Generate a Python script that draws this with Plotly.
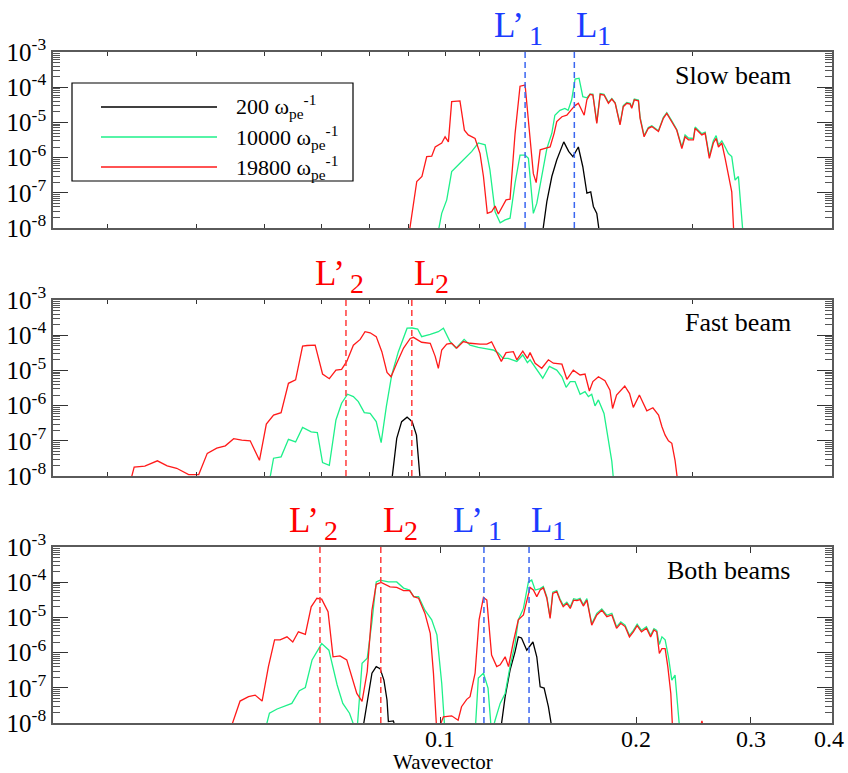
import math
import plotly.graph_objects as go

# ---------------- data (wavevector k, wave energy W) ----------------
# Panel 1: slow beam
slow_200_k = [0.1433, 0.1459, 0.1485, 0.1511, 0.1549, 0.1576, 0.1600, 0.1631, 0.1657, 0.1681, 0.1704, 0.1720, 0.1741, 0.1762]
slow_200_w = [5e-9, 5.6e-8, 2.9e-7, 8.5e-7, 2.8e-6, 1.5e-6, 1.07e-6, 2.0e-6, 5.5e-7, 9.8e-8, 1.07e-7, 4.1e-8, 2.6e-8, 5e-9]

slow_10000_k = [0.0989, 0.1006, 0.1024, 0.1042, 0.1073, 0.1099, 0.1119, 0.1145, 0.1173, 0.1193, 0.1215, 0.1237, 0.1259, 0.1281,
                0.1304, 0.1327, 0.1351, 0.1367, 0.1391, 0.1408, 0.1433, 0.1459, 0.1485, 0.1501, 0.1528, 0.1555, 0.1573, 0.1593,
                0.1612, 0.1635, 0.1657, 0.1681, 0.1700, 0.1717, 0.1741, 0.1762, 0.1786, 0.1814, 0.1836, 0.1858, 0.1890, 0.1912,
                0.1936, 0.1959, 0.1970, 0.1988, 0.2017, 0.2029, 0.2058, 0.2089, 0.2115, 0.2165, 0.2203, 0.2230, 0.2270, 0.2310,
                0.2352, 0.2379, 0.2407, 0.2450, 0.2465, 0.2494, 0.2524, 0.2554, 0.2592, 0.2629, 0.2655, 0.2677, 0.2709, 0.2741,
                0.2773, 0.2806, 0.2839, 0.2873, 0.2924]
slow_10000_w = [5e-9, 2.6e-8, 6.3e-8, 4.0e-7, 6.9e-7, 1.07e-6, 1.5e-6, 2.6e-6, 2.3e-6, 4.5e-7, 2.9e-8, 1.4e-8, 1.7e-8, 1.9e-8,
                1.9e-7, 1.17e-6, 1.17e-6, 9.5e-7, 2.6e-8, 5.0e-8, 2.9e-7, 1.8e-6, 4.9e-6, 1.6e-5, 2.2e-5, 2.5e-5, 2.2e-5, 4.4e-5,
                1.7e-4, 1.8e-4, 5.4e-5, 5.0e-5, 6.3e-5, 6.3e-5, 1.0e-5, 6.6e-5, 6.3e-5, 3.7e-5, 4.8e-5, 3.6e-5, 9.0e-6, 3.0e-5,
                3.7e-5, 3.5e-5, 2.7e-5, 4.6e-5, 4.3e-5, 1.4e-5, 4.2e-6, 7.2e-6, 8.0e-6, 5.8e-6, 1.4e-5, 1.9e-5, 1.1e-5, 6.3e-6,
                2.0e-6, 4.4e-6, 3.6e-6, 3.5e-6, 7.4e-6, 6.0e-6, 4.8e-6, 5.3e-6, 1.1e-6, 3.0e-6, 4.2e-6, 2.3e-6, 3.0e-6, 2.0e-6,
                1.3e-6, 1.07e-6, 2.3e-7, 2.9e-7, 5e-9]

slow_19800_k = [0.0894, 0.0921, 0.0938, 0.0954, 0.0971, 0.0983, 0.1006, 0.1018, 0.1030, 0.1042, 0.1073, 0.1090, 0.1105, 0.1132,
                0.1152, 0.1166, 0.1182, 0.1200, 0.1215, 0.1229, 0.1263, 0.1281, 0.1304, 0.1327, 0.1351, 0.1375, 0.1391, 0.1405,
                0.1425, 0.1445, 0.1476, 0.1497, 0.1511, 0.1539, 0.1566, 0.1588, 0.1612, 0.1631, 0.1665, 0.1681, 0.1700, 0.1717,
                0.1741, 0.1762, 0.1786, 0.1814, 0.1836, 0.1858, 0.1890, 0.1912, 0.1936, 0.1959, 0.1970, 0.1988, 0.2017, 0.2029,
                0.2058, 0.2089, 0.2115, 0.2165, 0.2203, 0.2230, 0.2270, 0.2310, 0.2352, 0.2379, 0.2407, 0.2450, 0.2465, 0.2494,
                0.2524, 0.2554, 0.2592, 0.2629, 0.2655, 0.2677, 0.2709, 0.2741, 0.2773, 0.2806, 0.2829]
slow_19800_w = [5e-9, 2.1e-7, 2.9e-7, 1.07e-6, 1.1e-6, 2.0e-6, 2.6e-6, 3.9e-6, 2.8e-6, 3.9e-5, 4.1e-5, 6.0e-6, 4.4e-6, 3.5e-6,
                1.3e-6, 2.9e-7, 2.6e-8, 2.9e-8, 4.2e-8, 2.5e-8, 6.3e-8, 6.6e-8, 4.9e-6, 1.07e-4, 1.15e-4, 3.2e-6, 3.5e-7, 1.95e-7,
                1.66e-6, 1.8e-6, 2.0e-6, 4.9e-6, 1.05e-5, 1.45e-5, 1.6e-5, 2.2e-5, 3.0e-5, 3.5e-5, 1.6e-5, 4.4e-5, 6.3e-5, 6.0e-5,
                9.3e-6, 6.3e-5, 6.0e-5, 3.5e-5, 4.6e-5, 3.5e-5, 8.5e-6, 2.8e-5, 3.5e-5, 3.3e-5, 2.5e-5, 4.4e-5, 4.1e-5, 1.3e-5,
                3.9e-6, 6.8e-6, 7.6e-6, 5.5e-6, 1.3e-5, 1.8e-5, 1.05e-5, 6.0e-6, 1.8e-6, 3.9e-6, 3.2e-6, 3.2e-6, 6.8e-6, 5.5e-6,
                4.4e-6, 4.9e-6, 9.5e-7, 2.6e-6, 3.5e-6, 2.0e-6, 2.6e-6, 9.5e-7, 3.5e-7, 1.07e-7, 5e-9]

# Panel 2: fast beam
fast_200_k = [0.0841, 0.0858, 0.0873, 0.0890, 0.0906, 0.0920, 0.0934]
fast_200_w = [5e-9, 1.17e-7, 3.5e-7, 4.7e-7, 3.5e-7, 1.45e-7, 5e-9]

fast_10000_k = [0.0545, 0.0555, 0.0570, 0.0585, 0.0600, 0.0615, 0.0634, 0.0648, 0.0660, 0.0676, 0.0692, 0.0706, 0.0721, 0.0736,
                0.0749, 0.0765, 0.0781, 0.0798, 0.0812, 0.0827, 0.0843, 0.0863, 0.0890, 0.0906, 0.0924, 0.0937, 0.0966, 0.0994,
                0.1012, 0.1036, 0.1058, 0.1089, 0.1112, 0.1145, 0.1180, 0.1207, 0.1229, 0.1250, 0.1272, 0.1312, 0.1340, 0.1362,
                0.1375, 0.1400, 0.1438, 0.1472, 0.1511, 0.1539, 0.1562, 0.1585, 0.1612, 0.1641, 0.1670, 0.1690, 0.1710, 0.1730,
                0.1751, 0.1786, 0.1814, 0.1836, 0.1851]
fast_10000_w = [5e-9, 3.2e-8, 3.5e-8, 1.1e-7, 9.3e-8, 2.4e-7, 1.8e-7, 1.7e-7, 2.4e-8, 2.0e-8, 3.9e-7, 1.17e-6, 2.1e-6, 1.8e-6,
                1.3e-6, 6.3e-7, 6.0e-7, 3.5e-7, 8.9e-8, 9.3e-7, 7.4e-6, 3.4e-5, 1.58e-4, 1.6e-4, 1.5e-4, 9.1e-5, 1.05e-4, 1.26e-4,
                1.58e-4, 6.6e-5, 4.3e-5, 7.6e-5, 5.2e-5, 4.5e-5, 4.1e-5, 3.8e-5, 3.1e-5, 2.2e-5, 2.2e-5, 1.8e-5, 2.75e-5, 1.66e-5,
                2.0e-5, 1.23e-5, 6.0e-6, 1.3e-5, 1.02e-5, 6.6e-6, 3.3e-6, 4.8e-6, 4.8e-6, 2.1e-6, 2.5e-6, 1.8e-6, 2.1e-6, 9.8e-7,
                1.45e-6, 6.0e-7, 1.05e-7, 2.6e-8, 5e-9]

fast_19800_k = [0.0333, 0.0339, 0.0352, 0.0368, 0.0381, 0.0394, 0.0411, 0.0426, 0.0439, 0.0454, 0.0468, 0.0482, 0.0496, 0.0511,
                0.0528, 0.0541, 0.0555, 0.0570, 0.0585, 0.0600, 0.0615, 0.0625, 0.0643, 0.0660, 0.0676, 0.0692, 0.0706, 0.0719,
                0.0736, 0.0754, 0.0767, 0.0781, 0.0798, 0.0814, 0.0829, 0.0841, 0.0858, 0.0879, 0.0900, 0.0910, 0.0937, 0.0966,
                0.0983, 0.0994, 0.1006, 0.1024, 0.1042, 0.1061, 0.1086, 0.1112, 0.1152, 0.1180, 0.1200, 0.1222, 0.1242, 0.1263,
                0.1296, 0.1312, 0.1340, 0.1362, 0.1375, 0.1400, 0.1433, 0.1467, 0.1493, 0.1539, 0.1566, 0.1602, 0.1641, 0.1670,
                0.1696, 0.1717, 0.1751, 0.1792, 0.1824, 0.1841, 0.1867, 0.1922, 0.1955, 0.1981, 0.2024, 0.2078, 0.2123, 0.2166,
                0.2192, 0.2217, 0.2243, 0.2270, 0.2296, 0.2323]
fast_19800_w = [5e-9, 1.8e-8, 1.9e-8, 2.7e-8, 1.95e-8, 1.66e-8, 1.1e-8, 1.1e-8, 4.4e-8, 6.2e-8, 7.2e-8, 1.15e-7, 1.05e-7, 1.0e-7,
                2.8e-8, 3.0e-7, 5.4e-7, 6.3e-7, 4.3e-6, 5.4e-6, 4.9e-5, 5.1e-5, 5.2e-5, 7.9e-6, 5.8e-6, 1.02e-5, 1.07e-5, 1.8e-5,
                5.2e-5, 7.6e-5, 1.26e-4, 1.17e-4, 9.1e-5, 3.4e-5, 8.7e-6, 6.6e-6, 1.6e-5, 4.3e-5, 8.1e-5, 8.7e-5, 6.3e-5, 5.9e-5,
                2.5e-5, 1.15e-5, 3.8e-5, 5.6e-5, 5.9e-5, 4.3e-5, 6.6e-5, 5.9e-5, 5.6e-5, 5.6e-5, 6.5e-5, 3.4e-5, 1.8e-5, 3.2e-5,
                3.4e-5, 2.0e-5, 3.5e-5, 2.2e-5, 3.2e-5, 1.6e-5, 1.15e-5, 2.0e-5, 1.6e-5, 1.5e-5, 5.6e-6, 1.02e-5, 7.4e-6, 7.9e-6,
                2.6e-6, 4.8e-6, 6.6e-6, 5.1e-6, 2.75e-6, 8.3e-7, 2.0e-6, 3.6e-6, 2.2e-6, 8.9e-7, 2.0e-6, 7.1e-7, 8.7e-7, 5.4e-7,
                2.5e-7, 1.45e-7, 1.0e-7, 8.5e-8, 2.8e-8, 5e-9]

# Panel 3: both beams
both_200_k = [0.0759, 0.0773, 0.0786, 0.0798, 0.0809, 0.0820, 0.0829, 0.0833, 0.0848, 0.0858, 0.1237, 0.1259, 0.1281, 0.1304,
              0.1319, 0.1334, 0.1359, 0.1389, 0.1408, 0.1425, 0.1445, 0.1467, 0.1490]
both_200_w = [5e-9, 3.6e-8, 2.6e-7, 4.0e-7, 3.5e-7, 1.66e-7, 4.5e-8, 1.1e-8, 1.15e-8, 5e-9, 5e-9, 5.6e-8, 3.2e-7, 1.07e-6,
              2.8e-6, 2.6e-6, 1.17e-6, 2.0e-6, 7.6e-7, 1.07e-7, 9.8e-8, 2.9e-8, 5e-9]

both_10000_k = [0.0537, 0.0547, 0.0562, 0.0576, 0.0592, 0.0608, 0.0621, 0.0636, 0.0647, 0.0658, 0.0675, 0.0695, 0.0709, 0.0726,
                0.0745, 0.0759, 0.0773, 0.0786, 0.0798, 0.0809, 0.0833, 0.0858, 0.0879, 0.0898, 0.0911, 0.0927, 0.0948, 0.0971,
                0.0989, 0.1006, 0.1018, 0.1132, 0.1145, 0.1166, 0.1185, 0.1200, 0.1215, 0.1237, 0.1259, 0.1281, 0.1304, 0.1319,
                0.1343, 0.1367, 0.1383, 0.1400, 0.1425, 0.1441, 0.1459, 0.1476, 0.1490, 0.1511, 0.1528, 0.1546, 0.1566, 0.1585,
                0.1604, 0.1623, 0.1641, 0.1660, 0.1681, 0.1710, 0.1741, 0.1772, 0.1804, 0.1836, 0.1867, 0.1895, 0.1924, 0.1954,
                0.1981, 0.2008, 0.2039, 0.2075, 0.2106, 0.2131, 0.2152, 0.2172, 0.2192, 0.2217, 0.2243, 0.2270, 0.2296, 0.2337]
both_10000_w = [5e-9, 1.9e-8, 2.5e-8, 2.9e-8, 3.6e-8, 8.3e-8, 1.02e-7, 6.2e-7, 1.07e-6, 1.8e-6, 1.17e-6, 1.2e-7, 3.6e-8, 1.9e-8,
                5e-9, 5.0e-7, 6.9e-7, 7.6e-6, 1.02e-4, 1.15e-4, 1.02e-4, 1.02e-4, 6.8e-5, 6.0e-5, 3.9e-5, 3.9e-5, 1.6e-5, 8.5e-6,
                3.2e-6, 1.35e-7, 5e-9, 5e-9, 1.9e-7, 2.6e-7, 9.8e-8, 5e-9, 1.2e-8, 3.6e-8, 6.9e-8, 4.0e-7, 1.8e-6, 8.5e-6,
                1.8e-5, 1.02e-4, 1.15e-4, 6.0e-5, 6.6e-5, 7.5e-5, 3.8e-5, 1.0e-5, 5.2e-5, 5.8e-5, 3.4e-5, 2.2e-5, 2.7e-5, 2.0e-5,
                3.4e-5, 3.2e-5, 3.5e-5, 2.3e-5, 3.4e-5, 6.6e-6, 1.3e-5, 1.75e-5, 1.15e-5, 1.3e-5, 5.4e-6, 7.5e-6, 6.0e-6, 3.1e-6,
                4.3e-6, 6.4e-6, 4.3e-6, 5.4e-6, 3.1e-6, 4.8e-6, 4.3e-6, 1.7e-6, 2.8e-6, 2.3e-6, 7.6e-7, 1.66e-7, 2.3e-7, 5e-9]

both_19800_k = [0.0474, 0.0493, 0.0508, 0.0520, 0.0533, 0.0545, 0.0557, 0.0568, 0.0582, 0.0594, 0.0606, 0.0621, 0.0634, 0.0647,
                0.0658, 0.0673, 0.0685, 0.0702, 0.0719, 0.0732, 0.0745, 0.0759, 0.0773, 0.0786, 0.0798, 0.0812, 0.0838, 0.0858,
                0.0879, 0.0898, 0.0911, 0.0927, 0.0948, 0.0966, 0.0977, 0.0989, 0.1012, 0.1042, 0.1066, 0.1079, 0.1099, 0.1112,
                0.1132, 0.1148, 0.1166, 0.1180, 0.1191, 0.1200, 0.1222, 0.1237, 0.1259, 0.1274, 0.1296, 0.1319, 0.1343, 0.1359,
                0.1375, 0.1391, 0.1408, 0.1425, 0.1441, 0.1459, 0.1476, 0.1490, 0.1511, 0.1528, 0.1546, 0.1566, 0.1585, 0.1604,
                0.1623, 0.1641, 0.1660, 0.1681, 0.1710, 0.1741, 0.1772, 0.1804, 0.1836, 0.1867, 0.1895, 0.1924, 0.1954, 0.1981,
                0.2008, 0.2039, 0.2075, 0.2106, 0.2131, 0.2152, 0.2172, 0.2192, 0.2217, 0.2238, 0.2262, 0.2278, 0.2500, 0.2525,
                0.2550]
both_19800_w = [5e-9, 4.2e-8, 5.6e-8, 6.2e-8, 4.2e-8, 4.0e-7, 2.3e-6, 2.3e-6, 2.8e-6, 2.0e-6, 3.9e-6, 3.3e-6, 2.0e-5, 3.5e-5,
                3.3e-5, 1.45e-5, 7.6e-7, 8.1e-7, 6.2e-7, 2.1e-7, 6.9e-8, 4.1e-8, 2.9e-7, 1.6e-5, 8.7e-5, 9.8e-5, 7.4e-5, 7.1e-5,
                5.8e-5, 5.8e-5, 3.9e-5, 3.5e-5, 1.3e-5, 3.5e-6, 2.6e-7, 5e-9, 1.5e-8, 1.6e-8, 1.2e-8, 2.9e-8, 4.7e-8, 5.6e-8,
                2.6e-7, 8.5e-6, 3.7e-5, 3.1e-5, 5.5e-6, 8.5e-7, 4.0e-7, 4.5e-7, 7.6e-7, 4.0e-7, 2.0e-6, 8.5e-6, 1.17e-5, 3.1e-5,
                7.1e-5, 6.0e-5, 3.9e-5, 6.0e-5, 6.9e-5, 3.5e-5, 9.3e-6, 4.8e-5, 5.4e-5, 3.1e-5, 2.0e-5, 2.5e-5, 1.8e-5, 3.1e-5,
                3.0e-5, 3.2e-5, 2.1e-5, 3.1e-5, 6.0e-6, 1.17e-5, 1.6e-5, 1.05e-5, 1.17e-5, 4.9e-6, 6.8e-6, 5.5e-6, 2.8e-6, 3.9e-6,
                5.8e-6, 3.9e-6, 4.9e-6, 2.8e-6, 4.4e-6, 3.9e-6, 9.5e-7, 1.3e-6, 1.3e-6, 4.0e-7, 6.9e-8, 5e-9, 5e-9, 1.15e-8,
                5e-9]

# Resonance markers (wavevector positions)
slow_marker_k = [0.1351, 0.1608]
slow_marker_lbl = [("L’", "1"), ("L", "1")]
fast_marker_k = [0.0717, 0.0905]
fast_marker_lbl = [("L’", "2"), ("L", "2")]
both_red_marker_k = [0.0654, 0.0811]
both_red_marker_lbl = [("L’", "2"), ("L", "2")]
both_blue_marker_k = [0.1168, 0.1370]
both_blue_marker_lbl = [("L’", "1"), ("L", "1")]

panel_titles = ["Slow beam", "Fast beam", "Both beams"]
series_names = ["200 ω<sub>pe</sub><sup>-1</sup>", "10000 ω<sub>pe</sub><sup>-1</sup>", "19800 ω<sub>pe</sub><sup>-1</sup>"]

# ticks (axis decoration)
x_minor_tick_vals = [0.0309, 0.0422, 0.0538, 0.0657, 0.0778, 0.0896, 0.1021, 0.1148, 0.2438]
x_label_vals = [0.1, 0.2, 0.3, 0.4]
x_label_text = ["0.1", "0.2", "0.3", "0.4"]
y_major_vals = [1e-8, 1e-7, 1e-6, 1e-5, 1e-4, 1e-3]
y_major_text = ["10<sup>-8</sup>", "10<sup>-7</sup>", "10<sup>-6</sup>", "10<sup>-5</sup>", "10<sup>-4</sup>", "10<sup>-3</sup>"]
y_minor_vals = [m * 10.0 ** e for e in range(-8, -3) for m in range(2, 10)]

# ---------------- styling ----------------
FONT = "Liberation Serif"
C_BLACK = "#000000"
C_GREEN = "#1ef08a"
C_RED = "#ff1a1a"
C_BLUE_LINE = "#3a66f0"
C_BLUE_TXT = "#1a3cff"
C_RED_LINE = "#ff3b3b"
C_RED_TXT = "#ff0000"
AX_COLOR = "#5a5a5a"

W, H = 848, 773
ML, MR, MT, MB = 53, 16, 52, 50
PH = H - MT - MB
PW = W - ML - MR
domains = [[1 - 176 / PH, 1.0], [1 - 424 / PH, 1 - 248 / PH], [0.0, 176 / PH]]

def px_to_paper_x(px):
    return (px - ML) / PW

def py_to_paper_y(py):
    return (H - MB - py) / PH

fig = go.Figure()

panels = [
    (slow_200_k, slow_200_w, slow_10000_k, slow_10000_w, slow_19800_k, slow_19800_w),
    (fast_200_k, fast_200_w, fast_10000_k, fast_10000_w, fast_19800_k, fast_19800_w),
    (both_200_k, both_200_w, both_10000_k, both_10000_w, both_19800_k, both_19800_w),
]

for i, (k0, w0, k1, w1, k2, w2) in enumerate(panels):
    xa = "x" if i == 0 else f"x{i+1}"
    ya = "y" if i == 0 else f"y{i+1}"
    for kk, ww, col, nm in [(k0, w0, C_BLACK, series_names[0]), (k1, w1, C_GREEN, series_names[1]),
                            (k2, w2, C_RED, series_names[2])]:
        fig.add_trace(go.Scatter(x=kk, y=ww, mode="lines", line=dict(color=col, width=1.3),
                                 name=nm, xaxis=xa, yaxis=ya, showlegend=False))

xrange = [math.log10(0.02544), math.log10(0.4) + 1e-6]
for i in range(3):
    xkey = "xaxis" if i == 0 else f"xaxis{i+1}"
    ykey = "yaxis" if i == 0 else f"yaxis{i+1}"
    ya = "y" if i == 0 else f"y{i+1}"
    xa = "x" if i == 0 else f"x{i+1}"
    xa_dict = dict(type="log", range=xrange, domain=[0, 1], anchor=ya,
                   showline=True, linecolor=AX_COLOR, linewidth=1.6, mirror="ticks",
                   ticks="inside", tickcolor="#333", showgrid=False, zeroline=False,
                   showticklabels=False, tickmode="array")
    if i < 2:
        xa_dict.update(tickvals=x_minor_tick_vals, ticklen=4)
    else:
        xa_dict.update(tickvals=x_label_vals, ticklen=6)
    ya_dict = dict(type="log", range=[-8, -3], domain=domains[i], anchor=xa,
                   showline=True, linecolor=AX_COLOR, linewidth=1.6, mirror="ticks",
                   ticks="inside", ticklen=15, tickcolor="#333", tickwidth=1.2,
                   tickmode="array", tickvals=y_major_vals, ticktext=y_major_text,
                   tickfont=dict(family=FONT, size=25, color="black"),
                   minor=dict(tickmode="array", tickvals=y_minor_vals, ticks="inside", ticklen=7,
                              tickcolor="#555", tickwidth=1, showgrid=False),
                   showgrid=False, zeroline=False)
    fig.layout[xkey] = xa_dict
    fig.layout[ykey] = ya_dict

shapes = []
annotations = []

# x tick labels of the bottom panel (text at the tick positions; log axis -> log10 coordinate)
for v, t in zip(x_label_vals, x_label_text):
    annotations.append(dict(xref="x3", yref="paper", x=math.log10(v), y=py_to_paper_y(739), text=t,
                            showarrow=False, xanchor="center", yanchor="middle",
                            xshift=(-3 if v == x_label_vals[-1] else 0),
                            font=dict(family=FONT, size=24, color="black")))

def add_markers(ks, lbls, xa, ya_dom, line_col, txt_col):
    for kv, (main, sub) in zip(ks, lbls):
        shapes.append(dict(type="line", xref=xa, yref=ya_dom, x0=kv, x1=kv, y0=0, y1=1,
                           line=dict(color=line_col, width=1.5, dash="6px,4px")))
        primed = main.startswith("L’")
        annotations.append(dict(xref=xa, yref=ya_dom, x=math.log10(kv), y=1, text=main, showarrow=False,
                                xanchor="left", yanchor="middle", xshift=(-33 if primed else 0), yshift=27,
                                font=dict(family=FONT, size=35, color=txt_col)))
        annotations.append(dict(xref=xa, yref=ya_dom, x=math.log10(kv), y=1, text=sub, showarrow=False,
                                xanchor="left", yanchor="middle", xshift=(2 if primed else 21), yshift=17,
                                font=dict(family=FONT, size=28, color=txt_col)))

add_markers(slow_marker_k, slow_marker_lbl, "x", "y domain", C_BLUE_LINE, C_BLUE_TXT)
add_markers(fast_marker_k, fast_marker_lbl, "x2", "y2 domain", C_RED_LINE, C_RED_TXT)
add_markers(both_red_marker_k, both_red_marker_lbl, "x3", "y3 domain", C_RED_LINE, C_RED_TXT)
add_markers(both_blue_marker_k, both_blue_marker_lbl, "x3", "y3 domain", C_BLUE_LINE, C_BLUE_TXT)

# panel titles
for title, py in zip(panel_titles, [75, 322, 570]):
    annotations.append(dict(xref="paper", yref="paper", x=px_to_paper_x(793), y=py_to_paper_y(py),
                            text=title, showarrow=False, xanchor="right", yanchor="middle",
                            font=dict(family=FONT, size=26, color="black")))

# legend box (drawn manually)
shapes.append(dict(type="rect", xref="paper", yref="paper",
                   x0=px_to_paper_x(72), x1=px_to_paper_x(353), y0=py_to_paper_y(181), y1=py_to_paper_y(83),
                   line=dict(color="black", width=1.2), fillcolor="white", layer="above"))
for nm, col, py in zip(series_names, [C_BLACK, C_GREEN, C_RED], [107, 137, 167]):
    shapes.append(dict(type="line", xref="paper", yref="paper",
                       x0=px_to_paper_x(101), x1=px_to_paper_x(217), y0=py_to_paper_y(py), y1=py_to_paper_y(py),
                       line=dict(color=col, width=1.5), layer="above"))
    annotations.append(dict(xref="paper", yref="paper", x=px_to_paper_x(234), y=py_to_paper_y(py),
                            text=nm, showarrow=False, xanchor="left", yanchor="middle",
                            font=dict(family=FONT, size=22, color="black")))

# x-axis title
annotations.append(dict(xref="paper", yref="paper", x=0.5, y=py_to_paper_y(762), text="Wavevector",
                        showarrow=False, xanchor="center", yanchor="middle",
                        font=dict(family=FONT, size=21, color="black")))

fig.update_layout(width=W, height=H, margin=dict(l=ML, r=MR, t=MT, b=MB, autoexpand=False),
                  plot_bgcolor="white", paper_bgcolor="white", showlegend=False,
                  font=dict(family=FONT, color="black"),
                  shapes=shapes, annotations=annotations)

# remove the browser's default 8px body margin so the figure fills the 848x773 window exactly
fig.write_html("out.html", config={"displayModeBar": False},
               post_script="document.body.style.margin='0px';")
